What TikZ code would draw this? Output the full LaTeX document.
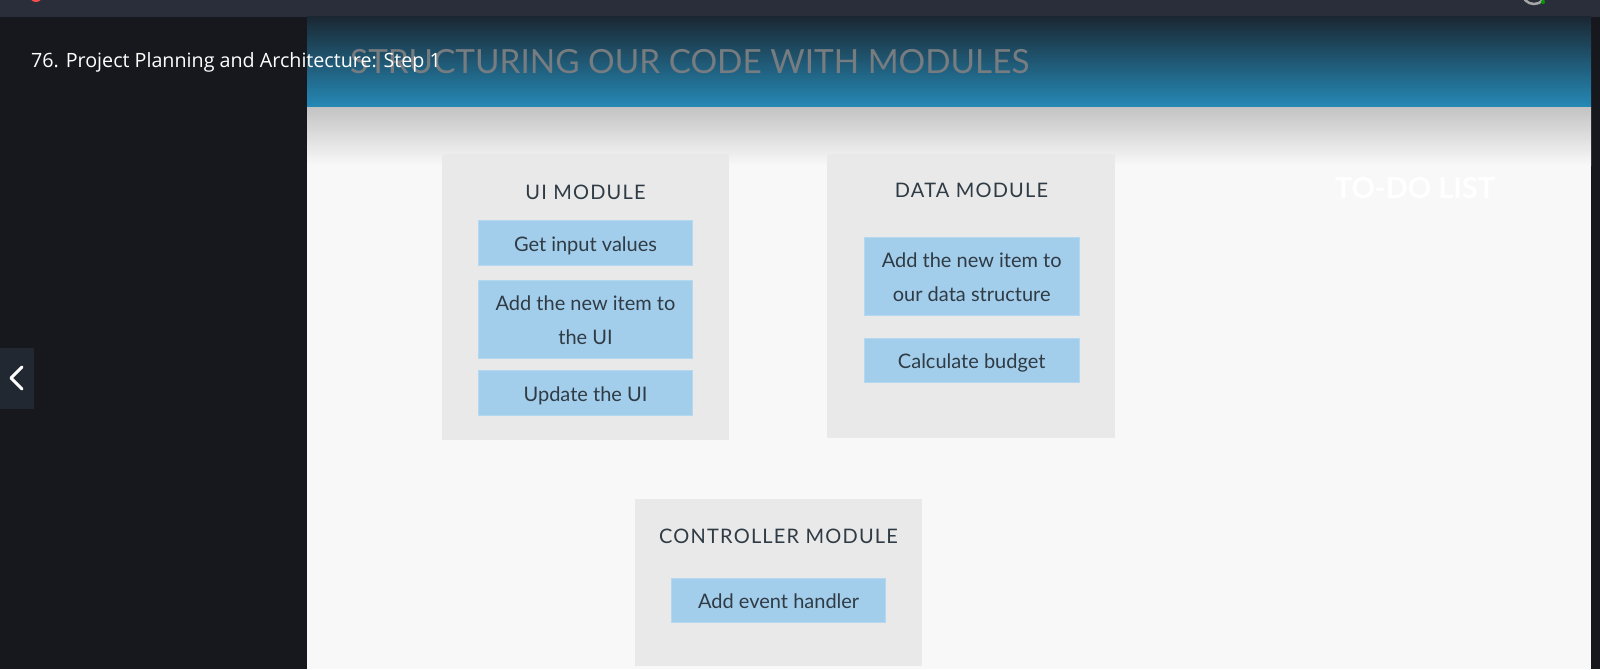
\documentclass[tikz,border=0pt]{standalone}
\usepackage{fontspec}
\setmainfont{Lato}
\newfontfamily\opensans{Open Sans}
\newfontfamily\latowide[LetterSpace=6]{Lato}
\definecolor{topbar}{HTML}{292E3A}
\definecolor{sidepanel}{HTML}{16181D}
\definecolor{navbtn}{HTML}{222831}
\definecolor{hdtop}{HTML}{1A2833}
\definecolor{hdbot}{HTML}{2589B6}
\definecolor{hdtitle}{HTML}{767C80}
\definecolor{pagebg}{HTML}{F8F8F8}
\definecolor{shadowgray}{HTML}{C3C3C3}
\definecolor{modbg}{HTML}{E9E9E9}
\definecolor{itembg}{HTML}{A3CEEB}
\definecolor{itemline}{HTML}{B3D8EF}
\definecolor{ink}{HTML}{2F3B45}
\begin{document}
\begin{tikzpicture}[x=1pt,y=-1pt,
  module/.style={fill=modbg,inner sep=0,anchor=north west},
  modtitle/.style={text=ink,inner sep=0,font=\latowide\fontsize{20}{24}\selectfont},
  item/.style={fill=itembg,draw=itemline,line width=0.8,inner sep=0,align=center,
    text=ink,font=\fontsize{20}{33.5}\selectfont,
    execute at begin node={\rule[-4pt]{0pt}{24.5pt}},
    execute at end node={\rule[-4pt]{0pt}{4pt}}},
  twoline/.style={item,execute at begin node={\rule[-4pt]{0pt}{58pt}}}]
\useasboundingbox (0,0) rectangle (1600,669);
% window frame
\fill[sidepanel] (0,0) rectangle (1600,669);
\fill[topbar] (0,0) rectangle (1600,17);
\begin{scope}
\clip (0,0) rectangle (1600,17);
\fill[red!70!white] (36,-4.5) circle (6.5);
\draw[gray!70,line width=2.5] (1534,-8) circle (12);
\fill[green!60!black] (1543,2) circle (2);
\end{scope}
% slide
\shade[top color=hdtop,bottom color=hdbot] (307,17) rectangle (1591,107);
\fill[pagebg] (307,107) rectangle (1591,669);
\shade[top color=shadowgray,bottom color=pagebg] (307,107) rectangle (1591,165);
\node[anchor=west,inner sep=0,text=hdtitle,font=\fontsize{33.3}{40}\selectfont] (slidetitle) at (350,62) {STRUCTURING OUR CODE WITH MODULES};
\node[inner sep=0,text=white,font=\bfseries\fontsize{29}{36}\selectfont] (todo) at (1415,188.5) {TO-DO LIST};
% lecture title and nav button
\node[anchor=west,inner sep=0,text=white,font=\opensans\fontsize{19.7}{24}\selectfont] (lecture) at (31,62.5) {76. Project Planning and Architecture: Step 1};
\fill[navbtn] (0,348) rectangle (34,409);
\draw[white,line width=3,line cap=round,line join=round] (22,367) -- (11,378) -- (22,389);
% UI module
\node[module,minimum width=287,minimum height=286] (ui) at (442,154) {};
\node[modtitle] (uititle) at (585.5,192) {UI MODULE};
\node[item,minimum width=214,minimum height=45] (uiget) at (585.5,243.3) {Get input values};
\node[twoline,minimum width=214,minimum height=78] (uiadd) at (585.5,319) {Add the new item to\\the UI};
\node[item,minimum width=214,minimum height=45] (uiupd) at (585.5,393) {Update the UI};
% data module
\node[module,minimum width=288,minimum height=284] (data) at (827,154) {};
\node[modtitle] (datatitle) at (971.5,190.5) {DATA MODULE};
\node[twoline,minimum width=215,minimum height=78] (dataadd) at (971.7,276) {Add the new item to\\our data structure};
\node[item,minimum width=215,minimum height=44] (datacalc) at (971.7,360.3) {Calculate budget};
% controller module
\node[module,minimum width=287,minimum height=167] (ctrl) at (635,499) {};
\node[modtitle] (ctrltitle) at (778.5,536.5) {CONTROLLER MODULE};
\node[item,minimum width=214,minimum height=44] (ctrlevent) at (778.7,600.7) {Add event handler};
\end{tikzpicture}
\end{document}
